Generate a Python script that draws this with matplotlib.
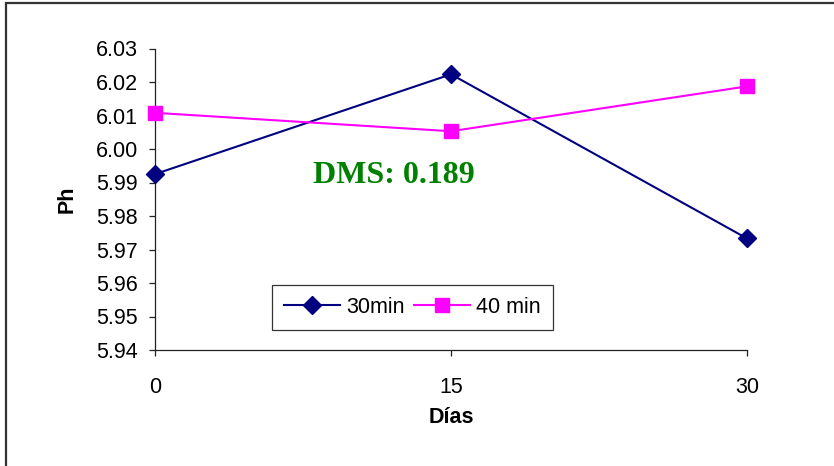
import matplotlib
matplotlib.use("Agg")
import matplotlib.pyplot as plt
from matplotlib.patches import Rectangle

dias = [0, 15, 30]
ph_30min = [5.9925, 6.0223, 5.9733]
ph_40min = [6.0108, 6.0053, 6.0187]
series_names = ["30min", "40 min"]
yticks = [5.94, 5.95, 5.96, 5.97, 5.98, 5.99, 6.00, 6.01, 6.02, 6.03]
dms_label = "DMS: 0.189"

plt.rcParams["font.family"] = ["Liberation Sans", "DejaVu Sans"]

W, H = 834, 466
fig = plt.figure(figsize=(W / 100, H / 100), dpi=100)
ax = fig.add_axes([155 / W, 1 - 350 / H, (747 - 155) / W, (350 - 48.5) / H])

# outer chart border (runs off the right and bottom edge)
fig.patches.append(Rectangle((6 / W, -0.1), 1.2, 1 - 3 / H + 0.1,
                             transform=fig.transFigure, fill=False,
                             edgecolor="#333333", linewidth=1.6))

ax.plot(dias, ph_30min, color="#000080", marker="D", markersize=9,
        linewidth=1.5, label=series_names[0], clip_on=False, zorder=3)
ax.plot(dias, ph_40min, color="#FF00FF", marker="s", markersize=10,
        linewidth=1.5, label=series_names[1], clip_on=False, zorder=3)

ax.set_xlim(0, 30)
ax.set_ylim(5.94, 6.03)
ax.set_xticks(dias)
ax.set_yticks(yticks)
ax.set_yticklabels([f"{v:.2f}" for v in yticks])

for s in ["top", "right"]:
    ax.spines[s].set_visible(False)
for s in ["left", "bottom"]:
    ax.spines[s].set_color("#222222")
    ax.spines[s].set_linewidth(0.9)

ax.tick_params(axis="y", direction="out", length=4.5, width=0.9,
               labelsize=15.5, pad=8, color="#222222")
ax.tick_params(axis="x", direction="out", length=4.5, width=0.9,
               labelsize=15.5, pad=15, color="#222222")

ax.set_xlabel("Días", fontsize=15.5, fontweight="bold", labelpad=0)
ax.xaxis.set_label_coords(0.5, -(407 - 350) / 301.5)
ax.set_ylabel("Ph", fontsize=15.5, fontweight="bold")
ax.yaxis.set_label_coords((78 - 155) / 592, 0.5)

ax.text(12.1, 5.9922, dms_label, color="#008000", fontsize=23,
        fontweight="bold", family=["Liberation Serif", "DejaVu Serif"],
        ha="center", va="center")

leg = ax.legend(loc="center", bbox_to_anchor=(412.5 / W, 1 - 307.5 / H),
                bbox_transform=fig.transFigure, ncol=2, fontsize=15.5,
                frameon=True, fancybox=False, shadow=False,
                handlelength=2.6, handletextpad=0.3, columnspacing=0.4,
                borderpad=0.55, borderaxespad=0)
leg.get_frame().set_edgecolor("black")
leg.get_frame().set_linewidth(0.9)

fig.savefig("out.png", dpi=100)
